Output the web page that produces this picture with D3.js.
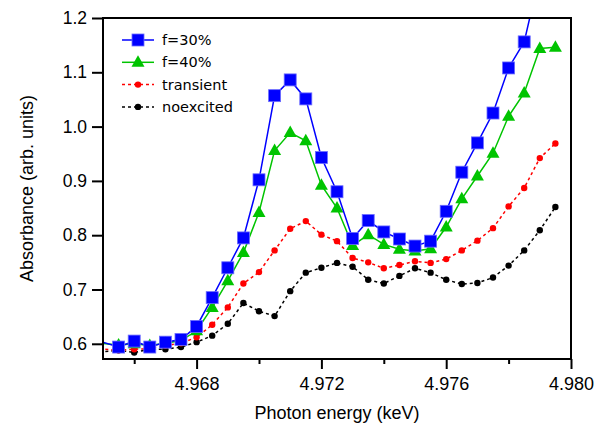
<!DOCTYPE html>
<html>
<head>
<meta charset="utf-8">
<script src="https://cdn.jsdelivr.net/npm/d3@7"></script>
<style>
  body { margin: 0; background: #fff; }
  text { font-family: "Liberation Sans", Arial, sans-serif; fill: #000; }
  .legend text { font-family: "DejaVu Sans", Verdana, sans-serif; }
</style>
</head>
<body>
<div id="chart"></div>
<script>
// photon energy (keV), 0.5 eV steps; first point lies just outside the frame
const energy = [4.9645, 4.9655, 4.966, 4.9665, 4.967, 4.9675, 4.968, 4.9685, 4.969, 4.9695,
  4.970, 4.9705, 4.971, 4.9715, 4.972, 4.9725, 4.973, 4.9735, 4.974, 4.9745,
  4.975, 4.9755, 4.976, 4.9765, 4.977, 4.9775, 4.978, 4.9785, 4.979, 4.9795];

const f30 = [0.612, 0.594, 0.605, 0.594, 0.603, 0.608, 0.632, 0.685, 0.740, 0.795,
  0.902, 1.057, 1.086, 1.051, 0.943, 0.880, 0.794, 0.827, 0.806, 0.793,
  0.780, 0.789, 0.844, 0.916, 0.970, 1.025, 1.108, 1.156, 1.28, 1.33];

const f40 = [0.603, 0.598, 0.600, 0.597, 0.601, 0.606, 0.624, 0.667, 0.716, 0.768,
  0.842, 0.956, 0.989, 0.974, 0.892, 0.850, 0.781, 0.801, 0.783, 0.774,
  0.771, 0.775, 0.815, 0.867, 0.909, 0.951, 1.019, 1.062, 1.144, 1.146];

const transient = [0.593, 0.588, 0.590, 0.591, 0.597, 0.601, 0.612, 0.635, 0.667, 0.711,
  0.732, 0.772, 0.812, 0.826, 0.801, 0.789, 0.758, 0.750, 0.739, 0.745,
  0.752, 0.749, 0.756, 0.772, 0.790, 0.813, 0.853, 0.887, 0.942, 0.969];

const noexcited = [0.583, 0.588, 0.584, 0.590, 0.590, 0.594, 0.603, 0.615, 0.637, 0.675,
  0.660, 0.651, 0.697, 0.731, 0.740, 0.749, 0.742, 0.718, 0.711, 0.725,
  0.739, 0.731, 0.718, 0.710, 0.712, 0.722, 0.744, 0.772, 0.809, 0.852];

const xTicks = [4.968, 4.972, 4.976, 4.980];
const xMinor = [4.966, 4.970, 4.974, 4.978];
const yTicks = [0.6, 0.7, 0.8, 0.9, 1.0, 1.1, 1.2];

const series = [
  { name: "noexcited", values: noexcited, color: "#000", dash: "3,3", marker: "dot" },
  { name: "transient", values: transient, color: "#ff0000", dash: "3,3", marker: "dot" },
  { name: "f=40%", values: f40, color: "#00c400", dash: null, marker: "tri" },
  { name: "f=30%", values: f30, color: "#0000ff", dash: null, marker: "square" },
];

const width = 596, height = 431;
const margin = { left: 103, right: 25, top: 18, bottom: 72 };

const svg = d3
  .select("#chart")
  .append("svg")
  .attr("width", width)
  .attr("height", height);

const x = d3.scaleLinear().domain([4.965, 4.980]).range([margin.left, width - margin.right]);
const y = d3.scaleLinear().domain([0.572, 1.2]).range([height - margin.bottom, margin.top]);

svg.append("clipPath").attr("id", "clip")
  .append("rect")
  .attr("x", x.range()[0]).attr("y", y.range()[1])
  .attr("width", x.range()[1] - x.range()[0])
  .attr("height", y.range()[0] - y.range()[1]);

const plot = svg.append("g").attr("clip-path", "url(#clip)");

const line = d3.line().x((d) => x(d[0])).y((d) => y(d[1]));

function drawMarker(sel, type, color) {
  if (type === "square") {
    sel.append("rect")
      .attr("x", -6).attr("y", -6).attr("width", 12).attr("height", 12)
      .attr("fill", color).attr("stroke", "#6b6bff").attr("stroke-width", 0.8);
  } else if (type === "tri") {
    sel.append("path")
      .attr("d", "M0,-7L6.5,4.5L-6.5,4.5Z")
      .attr("fill", color);
  } else {
    sel.append("circle").attr("r", 3.2).attr("fill", color);
  }
}

series.forEach((s) => {
  const pts = energy.map((e, i) => [e, s.values[i]]);
  plot.append("path")
    .attr("d", line(pts))
    .attr("fill", "none")
    .attr("stroke", s.color)
    .attr("stroke-width", 1.5)
    .attr("stroke-dasharray", s.dash);

  plot.selectAll(null)
    .data(pts)
    .enter()
    .append("g")
    .attr("transform", (d) => `translate(${x(d[0])},${y(d[1])})`)
    .each(function () { drawMarker(d3.select(this), s.marker, s.color); });
});

// frame
svg.append("rect")
  .attr("x", x.range()[0]).attr("y", y.range()[1])
  .attr("width", x.range()[1] - x.range()[0])
  .attr("height", y.range()[0] - y.range()[1])
  .attr("fill", "none").attr("stroke", "#000").attr("stroke-width", 2);

// x axis
svg.append("g")
  .attr("class", "xaxis")
  .attr("transform", `translate(0,${y.range()[0]})`)
  .call(d3.axisBottom(x).tickValues(xTicks).tickSize(10).tickPadding(8).tickFormat(d3.format(".3f")));
svg.append("g")
  .attr("transform", `translate(0,${y.range()[0]})`)
  .call(d3.axisBottom(x).tickValues(xMinor).tickSize(5).tickFormat(""));

// y axis
svg.append("g")
  .attr("class", "yaxis")
  .attr("transform", `translate(${x.range()[0]},0)`)
  .call(d3.axisLeft(y).tickValues(yTicks).tickSize(11).tickPadding(5).tickFormat(d3.format(".1f")));

svg.selectAll(".domain").remove();
svg.selectAll(".tick line").attr("stroke", "#000").attr("stroke-width", 2);
svg.selectAll(".tick text").attr("font-family", "Liberation Sans, Arial, sans-serif").attr("fill", "#000");
svg.selectAll(".xaxis .tick text").attr("font-size", 18);
svg.selectAll(".yaxis .tick text").attr("font-size", 17.5);

svg.append("text")
  .attr("x", (x.range()[0] + x.range()[1]) / 2)
  .attr("y", 419)
  .attr("text-anchor", "middle")
  .attr("font-size", 18)
  .text("Photon energy (keV)");

svg.append("text")
  .attr("transform", `translate(33,${(y.range()[0] + y.range()[1]) / 2}) rotate(-90)`)
  .attr("text-anchor", "middle")
  .attr("font-size", 18)
  .text("Absorbance (arb. units)");

// legend
const legendItems = [series[3], series[2], series[1], series[0]];
const legend = svg.append("g").attr("class", "legend");
legendItems.forEach((s, i) => {
  const ly = 40 + i * 22.3;
  legend.append("line")
    .attr("x1", 122).attr("x2", 154).attr("y1", ly).attr("y2", ly)
    .attr("stroke", s.color).attr("stroke-width", 1.5)
    .attr("stroke-dasharray", s.dash);
  const g = legend.append("g").attr("transform", `translate(138,${ly})`);
  drawMarker(g, s.marker, s.color);
  legend.append("text")
    .attr("x", 162).attr("y", ly + 5)
    .attr("font-size", 14.5)
    .text(s.name);
});
</script>
</body>
</html>
